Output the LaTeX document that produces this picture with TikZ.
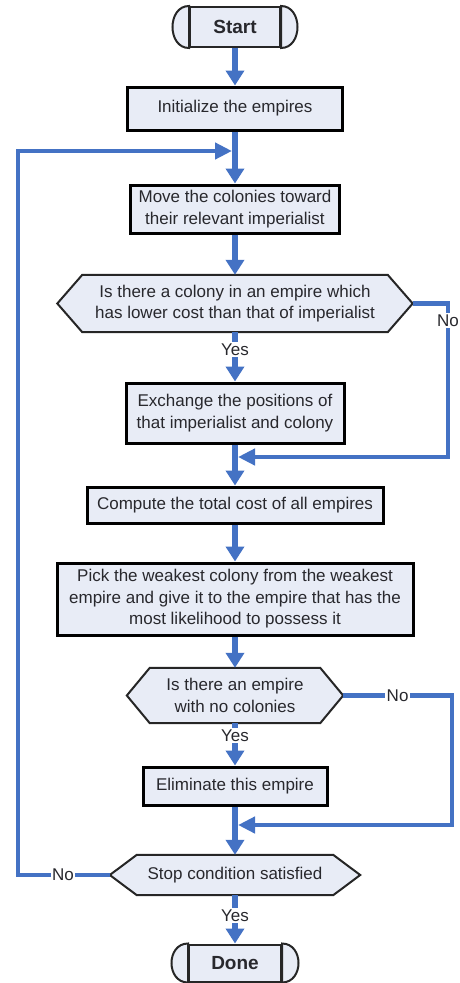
\documentclass[tikz,border=0pt]{standalone}
\usepackage{fontspec}
\setmainfont{Liberation Sans}
\usetikzlibrary{arrows.meta,calc,backgrounds}
\definecolor{boxfill}{RGB}{232,236,246}
\definecolor{flowblue}{RGB}{68,114,196}
\definecolor{txt}{RGB}{40,40,45}
\begin{document}
\begin{tikzpicture}[x=1pt,y=-1pt,
  every node/.style={font=\fontsize{17}{21.5}\selectfont, text=txt, inner sep=0pt, align=center},
  procbox/.style={draw=black, line width=3pt, fill=boxfill},
  decbox/.style={},
  hexline/.style={draw=black!85, line width=2pt, fill=boxfill, line join=miter},
  termbox/.style={draw=black!85, line width=2pt, fill=boxfill, font=\fontsize{19}{22}\selectfont\bfseries},
  termline/.style={draw=black!85, line width=2pt, fill=boxfill},
  flow/.style={draw=flowblue, line width=6pt, -{Triangle[width=18pt,length=15pt]}},
  loopline/.style={draw=flowblue, line width=4.5pt, line join=miter, -{Triangle[width=16pt,length=17pt]}, shorten >=3pt},
  lbl/.style={fill=white, inner sep=1.5pt, text=txt}]
\useasboundingbox (0,0) rectangle (459,983);

% nodes
\node[termbox, minimum width=90pt, minimum height=40pt] (start) at (235,27) {Start};
\node[procbox, minimum width=215pt, minimum height=43pt] (init) at (235,108.5) {Initialize the empires};
\node[procbox, minimum width=209pt, minimum height=48pt] (move) at (235,209) {Move the colonies toward\\their relevant imperialist};
\node[decbox, minimum width=305pt, minimum height=57pt] (dec1) at (235,303.5) {Is there a colony in an empire which\\has lower cost than that of imperialist};
\node[procbox, minimum width=218pt, minimum height=60pt] (exch) at (235,413) {Exchange the positions of\\that imperialist and colony};
\node[procbox, minimum width=296pt, minimum height=36pt] (comp) at (235,505) {Compute the total cost of all empires};
\node[procbox, minimum width=356pt, minimum height=72pt] (pick) at (235,599) {Pick the weakest colony from the weakest\\empire and give it to the empire that has the\\most likelihood to possess it};
\node[decbox, minimum width=170pt, minimum height=55pt] (dec2) at (235,695.5) {Is there an empire\\with no colonies};
\node[procbox, minimum width=184pt, minimum height=38pt] (elim) at (235,786) {Eliminate this empire};
\node[decbox, minimum width=196pt, minimum height=40pt] (stop) at (235,875) {Stop condition satisfied};
\node[termbox, minimum width=92pt, minimum height=37pt] (done) at (235,963) {Done};

% hexagon outlines
\begin{scope}[on background layer]
  \foreach \n/\s in {dec1/25,dec2/23,stop/27} {
    \draw[hexline] (\n.north west) -- (\n.north east) -- ($(\n.east)+(\s,0)$) -- (\n.south east)
      -- (\n.south west) -- ($(\n.west)+(-\s,0)$) -- cycle;
  }
\end{scope}

% terminal end caps
\foreach \n in {start,done} {
  \draw[termline] (\n.north west) .. controls +(-22,0) and +(-22,0) .. (\n.south west) -- cycle;
  \draw[termline] (\n.north east) .. controls +(22,0) and +(22,0) .. (\n.south east) -- cycle;
}

% helper coordinates
\coordinate (dec1E) at ($(dec1.east)+(25,0)$);
\coordinate (dec2E) at ($(dec2.east)+(23,0)$);
\coordinate (stopW) at ($(stop.west)+(-27,0)$);
\coordinate (j1) at (235,457);
\coordinate (j2) at (235,825);
\coordinate (j3) at (235,151);

% main flow
\draw[flow] (start.south) -- (init.north);
\draw[flow] (init.south) -- (move.north);
\draw[flow] (move.south) -- (dec1.north);
\draw[flow] (dec1.south) -- node[lbl,pos=0.35]{Yes} (exch.north);
\draw[flow] (exch.south) -- (comp.north);
\draw[flow] (comp.south) -- (pick.north);
\draw[flow] (pick.south) -- (dec2.north);
\draw[flow] (dec2.south) -- node[lbl,pos=0.3]{Yes} (elim.north);
\draw[flow] (elim.south) -- (stop.north);
\draw[flow] (stop.south) -- node[lbl,pos=0.42]{Yes} (done.north);

% loops
\draw[loopline] (dec1E) -- (448,303.5) -- node[lbl,pos=0.11]{No} (448,457) -- (j1);
\draw[loopline] (dec2E) -- node[lbl,pos=0.5]{No} (452,695.5) -- (452,825) -- (j2);
\draw[loopline] (stopW) -- node[lbl,pos=0.51]{No} (18,875) -- (18,151) -- (j3);
\end{tikzpicture}
\end{document}
